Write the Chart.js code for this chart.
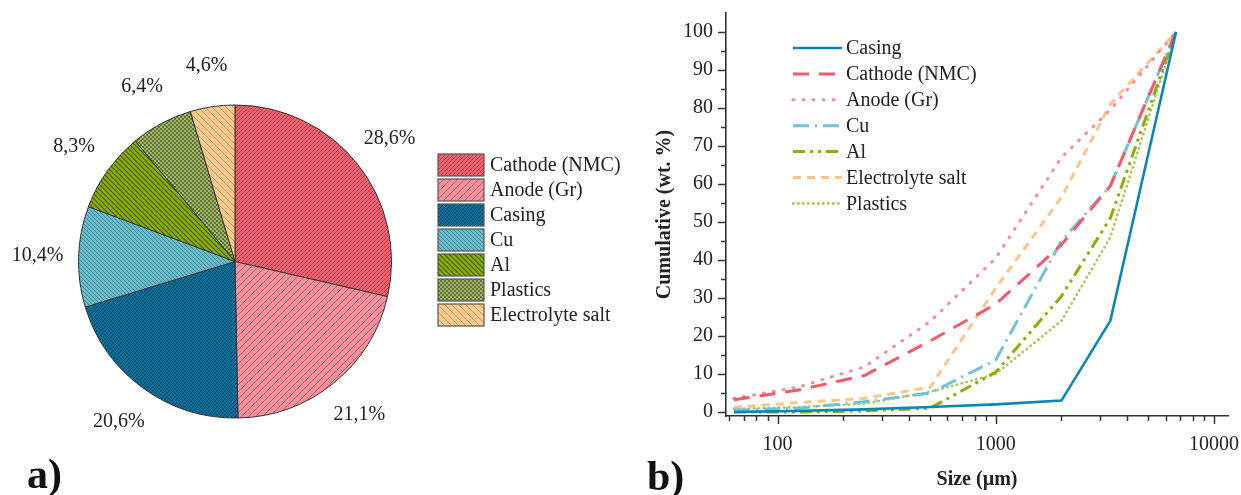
<!DOCTYPE html>
<html><head><meta charset="utf-8">
<script src="https://cdn.jsdelivr.net/npm/chart.js@4.4.0/dist/chart.umd.min.js"></script>
<style>
html,body{margin:0;padding:0;background:#fff;width:1241px;height:495px;overflow:hidden;}
#wrap{position:relative;width:1241px;height:495px;}
#pieBox{position:absolute;left:0;top:0;width:640px;height:495px;}
#lineBox{position:absolute;left:640px;top:0;width:601px;height:495px;}
.panel{position:absolute;font-family:"Liberation Serif",serif;font-weight:bold;font-size:42px;line-height:1;color:#111;}
</style></head><body>
<div id="wrap">
<div id="pieBox"><canvas id="pie" width="640" height="495"></canvas></div>
<div id="lineBox"><canvas id="line" width="601" height="495"></canvas></div>
<div class="panel" style="left:27px;top:453px">a)</div>
<div class="panel" style="left:647px;top:455px">b)</div>
</div>
<script>
// ---- Pie data ----
const pieLabels = ['Cathode (NMC)','Anode (Gr)','Casing','Cu','Al','Plastics','Electrolyte salt'];
const pieValues = [28.6, 21.1, 20.6, 10.4, 8.3, 6.4, 4.6];
const pieValueLabels = ['28,6%','21,1%','20,6%','10,4%','8,3%','6,4%','4,6%'];

// ---- Line data ----
const sizes       = [63, 125, 250, 500, 1000, 2000, 3350, 6700];
const casing      = [0, 0.3, 0.7, 1.3, 2, 3, 24, 100];
const cathode     = [3.2, 5.8, 9.6, 18.7, 28.4, 44, 59.5, 100];
const anode       = [3.6, 6.6, 11.9, 23.8, 40.5, 67, 79.5, 100];
const cu          = [0.5, 1, 2.7, 5, 13.7, 45, 59.5, 100];
const al          = [0, 0, 0.3, 1, 10.5, 30.5, 51, 100];
const electrolyte = [1.2, 2.5, 3.6, 6.5, 32.6, 56.5, 81, 100];
const plastics    = [0.8, 1.3, 2.2, 5.3, 10, 24, 46, 100];
const lineLabels  = ['Casing','Cathode (NMC)','Anode (Gr)','Cu','Al','Electrolyte salt','Plastics'];
const xTickLabels = [100, 1000, 10000];
const yTickLabels = [0,10,20,30,40,50,60,70,80,90,100];

const FONT = 'Liberation Serif';
const TXT = '#222';

// ---- hatch patterns ----
function hatch(base, stripe, s, dir, lw){
  const c = document.createElement('canvas'); c.width = s; c.height = s;
  const g = c.getContext('2d');
  g.fillStyle = base; g.fillRect(0,0,s,s);
  g.strokeStyle = stripe; g.lineWidth = lw || 1;
  if (dir === '\\') { g.translate(s,0); g.scale(-1,1); }
  g.beginPath();
  [0, s, 2*s].forEach(cc => { g.moveTo(cc+1, -1); g.lineTo(-1, cc+1); });
  g.stroke();
  return g.createPattern(c, 'repeat');
}
function checker(base, dark){
  const c = document.createElement('canvas'); c.width = 4; c.height = 4;
  const g = c.getContext('2d');
  g.fillStyle = base; g.fillRect(0,0,4,4);
  g.fillStyle = dark; g.fillRect(0,0,2,2); g.fillRect(2,2,2,2);
  return g.createPattern(c, 'repeat');
}
const piePatterns = [
  hatch('#f2606e', '#b8404c', 4, '/', 1),
  hatch('#f8909c', '#c0606c', 7, '/', 1),
  hatch('#0b6f9c', '#07405c', 4, '/', 1),
  hatch('#6cbccb', '#3c8a98', 4, '\\', 1),
  hatch('#8aae02', '#465c00', 5, '\\', 1.2),
  checker('#a2b866', '#607236'),
  hatch('#ffc88c', '#c89a6a', 7, '\\', 1)
];

const pieLabelPlugin = {
  id: 'pieLabels',
  afterDraw(chart){
    const ctx = chart.ctx;
    const meta = chart.getDatasetMeta(0);
    ctx.save();
    ctx.font = '20px "' + FONT + '"';
    ctx.fillStyle = TXT;
    ctx.textAlign = 'center'; ctx.textBaseline = 'middle';
    meta.data.forEach((arc, i) => {
      const p = arc.getProps(['x','y','startAngle','endAngle','outerRadius'], true);
      const mid = (p.startAngle + p.endAngle) / 2;
      const r = p.outerRadius + 41;
      ctx.fillText(pieValueLabels[i], p.x + Math.cos(mid)*r, p.y + Math.sin(mid)*r);
    });
    // legend
    pieLabels.forEach((lab, i) => {
      const cy = 165 + i*25;
      ctx.fillStyle = piePatterns[i];
      ctx.fillRect(438, cy-11, 46, 22);
      ctx.strokeStyle = '#555'; ctx.lineWidth = 1.2;
      ctx.strokeRect(438, cy-11, 46, 22);
      ctx.fillStyle = TXT; ctx.textAlign = 'left';
      ctx.fillText(lab, 490, cy+1);
    });
    ctx.restore();
  }
};

new Chart(document.getElementById('pie'), {
  type: 'pie',
  data: { labels: pieLabels, datasets: [{ data: pieValues, backgroundColor: piePatterns, borderColor: '#333', borderWidth: 1 }] },
  options: {
    responsive: false, animation: false,
    layout: { padding: { left: 78, right: 248, top: 104, bottom: 76 } },
    plugins: { legend: { display: false }, tooltip: { enabled: false } }
  },
  plugins: [pieLabelPlugin]
});

// ---- Line chart ----
const seriesValues = [casing, cathode, anode, cu, al, electrolyte, plastics];
const lineStyles = [
  { color: '#0a86b8', dash: [], cap: 'butt', w: 2.6 },
  { color: '#f25a6a', dash: [16, 10], cap: 'butt', w: 3 },
  { color: '#f88a9a', dash: [1, 9], cap: 'round', w: 3 },
  { color: '#6ec4d4', dash: [16, 6, 2, 6], cap: 'butt', w: 3 },
  { color: '#88b000', dash: [12, 5, 3, 5, 3, 5], cap: 'butt', w: 3 },
  { color: '#ffc488', dash: [8, 6], cap: 'butt', w: 3 },
  { color: '#a8c85a', dash: [0.5, 4.5], cap: 'round', w: 2.6 }
];
const datasets = lineLabels.map((lab, i) => ({
  label: lab,
  data: sizes.map((s, k) => ({ x: s, y: seriesValues[i][k] })),
  borderColor: lineStyles[i].color,
  borderDash: lineStyles[i].dash,
  borderCapStyle: lineStyles[i].cap,
  borderWidth: lineStyles[i].w,
  pointRadius: 0, tension: 0, fill: false
}));

function decadeTicks(min, max){
  const out = [];
  for (let e = 1; e <= 4; e++) for (let m = 1; m <= 9; m++) {
    const v = m * Math.pow(10, e);
    if (v >= min && v <= max) out.push(v);
  }
  return out;
}

const linePlugin = {
  id: 'lineExtras',
  afterDraw(chart){
    const ctx = chart.ctx, xs = chart.scales.x, ys = chart.scales.y;
    ctx.save();
    ctx.strokeStyle = '#333'; ctx.lineWidth = 1.5;
    xs.ticks.forEach(t => {
      const px = Math.round(xs.getPixelForValue(t.value)) + 0.5;
      const major = xTickLabels.includes(t.value);
      ctx.beginPath(); ctx.moveTo(px, xs.top); ctx.lineTo(px, xs.top + (major ? 8 : 5)); ctx.stroke();
    });
    ys.ticks.forEach(t => {
      const py = Math.round(ys.getPixelForValue(t.value)) + 0.5;
      const major = yTickLabels.includes(t.value);
      ctx.beginPath(); ctx.moveTo(ys.right, py); ctx.lineTo(ys.right - (major ? 8 : 5), py); ctx.stroke();
    });
    // legend
    ctx.font = '20px "' + FONT + '"';
    ctx.textAlign = 'left'; ctx.textBaseline = 'middle';
    chart.data.datasets.forEach((ds, i) => {
      const y = 48 + i * 25.9;
      ctx.strokeStyle = ds.borderColor; ctx.lineWidth = ds.borderWidth;
      ctx.setLineDash(ds.borderDash); ctx.lineCap = ds.borderCapStyle;
      ctx.beginPath(); ctx.moveTo(153, y); ctx.lineTo(202, y); ctx.stroke();
      ctx.setLineDash([]);
      ctx.fillStyle = TXT;
      ctx.fillText(ds.label, 206, y + 1);
    });
    ctx.restore();
  }
};

new Chart(document.getElementById('line'), {
  type: 'line',
  data: { datasets },
  options: {
    responsive: false, animation: false,
    layout: { padding: { left: 0, right: 13, top: 13, bottom: 0 } },
    plugins: { legend: { display: false }, tooltip: { enabled: false } },
    scales: {
      x: {
        type: 'logarithmic', min: 58, max: 11600,
        afterBuildTicks: s => { s.ticks = decadeTicks(58, 11600).map(v => ({ value: v })); },
        afterFit: s => { s.height = 79; s.paddingLeft = 0; s.paddingRight = 0; s.paddingTop = 0; s.paddingBottom = 0; },
        grid: { display: false, drawTicks: false },
        border: { display: true, color: '#333', width: 1.6 },
        ticks: { autoSkip: false, maxRotation: 0, padding: 17, color: TXT, font: { family: FONT, size: 20 },
          callback: v => xTickLabels.includes(v) ? String(v) : '' },
        title: { display: true, text: 'Size (µm)', color: TXT, font: { family: FONT, size: 20, weight: 'bold' }, padding: { top: 0, bottom: 3 } }
      },
      y: {
        min: -1.05, max: 105,
        afterBuildTicks: s => { const t = []; for (let v = 0; v <= 100; v += 5) t.push({ value: v }); s.ticks = t; },
        afterFit: s => { s.width = 86; s.paddingLeft = 0; s.paddingRight = 0; s.paddingTop = 0; s.paddingBottom = 0; },
        grid: { display: false, drawTicks: false },
        border: { display: true, color: '#333', width: 1.6 },
        ticks: { autoSkip: false, padding: 13, color: TXT, font: { family: FONT, size: 20 },
          callback: v => yTickLabels.includes(v) ? String(v) : '' },
        title: { display: true, text: 'Cumulative (wt. %)', color: TXT, font: { family: FONT, size: 20, weight: 'bold' }, padding: { top: 13, bottom: 0 } }
      }
    }
  },
  plugins: [linePlugin]
});
</script>
</body></html>
